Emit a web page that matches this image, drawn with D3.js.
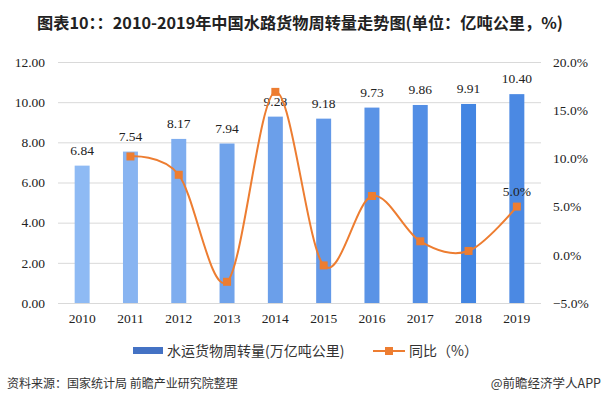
<!DOCTYPE html>
<html><head><meta charset="utf-8">
<script src="https://cdn.jsdelivr.net/npm/d3@7/dist/d3.min.js"></script>
<style>body{margin:0;background:#fff}svg{display:block}</style>
</head><body><svg id="c" width="604" height="404"></svg>
<script>
const years = ["2010","2011","2012","2013","2014","2015","2016","2017","2018","2019"];
const volume = [6.84,7.54,8.17,7.94,9.28,9.18,9.73,9.86,9.91,10.40];
const yoy = [null,10.2,8.3,-2.8,16.9,-1.1,6.1,1.4,0.4,5.0];
const leftTicks = [0,2,4,6,8,10,12];
const rightTicks = [-5,0,5,10,15,20];
const barColors = ["#8ebaf4","#88b4f1","#7eadef","#70a3eb","#6b9fea","#6399e8","#5a93e6","#528ee5","#4285e2","#4b89e3"];

const svg = d3.select("#c");
const L = 58, R = 541, T = 62, B = 303;
const serif = "'Liberation Serif','Times New Roman',serif";
const cjk = "'Noto Sans CJK SC','Microsoft YaHei',sans-serif";

const x = d3.scaleBand().domain(years).range([L, R]).paddingInner(0.69).paddingOuter(0.345);
const y = d3.scaleLinear().domain([0, 12]).range([B, T]);
const y2 = d3.scaleLinear().domain([-5, 20]).range([B, T]);

// title
svg.append("text").attr("x", 300).attr("y", 29).attr("text-anchor", "middle")
  .attr("font-family", cjk).attr("font-weight", "bold").attr("font-size", 16.2).attr("fill", "#222")
  .text("图表10：：2010-2019年中国水路货物周转量走势图(单位：亿吨公里，%)");

// gridlines
svg.append("g").selectAll("line").data(leftTicks).join("line")
  .attr("x1", L).attr("x2", R).attr("y1", d => y(d) + 0.5).attr("y2", d => y(d) + 0.5)
  .attr("stroke", "#d9d9d9").attr("stroke-width", 1);

// left axis
const ga = svg.append("g").attr("transform", `translate(${L - 13},0)`)
  .call(d3.axisLeft(y).tickValues(leftTicks).tickFormat(d3.format(".2f")).tickSize(0).tickPadding(0));
ga.select(".domain").remove();
ga.selectAll("text").attr("font-family", serif).attr("font-size", 13.5).attr("fill", "#222");

// right axis
const gr = svg.append("g").attr("transform", `translate(${R + 12},0)`)
  .call(d3.axisRight(y2).tickValues(rightTicks).tickFormat(d => d3.format(".1f")(d) + "%").tickSize(0).tickPadding(0));
gr.select(".domain").remove();
gr.selectAll("text").attr("font-family", serif).attr("font-size", 13.5).attr("fill", "#222");

// bottom axis
const gb = svg.append("g").attr("transform", `translate(0,${B + 10})`)
  .call(d3.axisBottom(x).tickSize(0).tickPadding(0));
gb.select(".domain").remove();
gb.selectAll("text").attr("font-family", serif).attr("font-size", 13.5).attr("fill", "#222").attr("dy", "0.71em");

// bars
svg.append("g").selectAll("rect").data(years).join("rect")
  .attr("x", d => x(d)).attr("width", x.bandwidth())
  .attr("y", (d, i) => y(volume[i])).attr("height", (d, i) => y(0) - y(volume[i]))
  .attr("fill", (d, i) => barColors[i]);

// bar labels
svg.append("g").selectAll("text").data(years).join("text")
  .attr("x", d => x(d) + x.bandwidth() / 2).attr("y", (d, i) => y(volume[i]) - 11)
  .attr("text-anchor", "middle").attr("font-family", serif).attr("font-size", 13.5).attr("fill", "#222")
  .text((d, i) => volume[i].toFixed(2));

// line
const pts = years.map((d, i) => ({ year: d, v: yoy[i] })).filter(p => p.v !== null);
const cx = d => x(d.year) + x.bandwidth() / 2;
svg.append("path").datum(pts)
  .attr("d", d3.line().x(cx).y(d => y2(d.v)).curve(d3.curveCatmullRom.alpha(0)))
  .attr("fill", "none").attr("stroke", "#ed7d31").attr("stroke-width", 2);
svg.append("g").selectAll("rect").data(pts).join("rect")
  .attr("x", d => cx(d) - 4).attr("y", d => y2(d.v) - 4).attr("width", 8).attr("height", 8)
  .attr("fill", "#ed7d31");
const last = pts[pts.length - 1];
svg.append("text").attr("x", cx(last)).attr("y", y2(last.v) - 11).attr("text-anchor", "middle")
  .attr("font-family", serif).attr("font-size", 13.5).attr("fill", "#222").text(d3.format(".1f")(last.v) + "%");

// legend
const lg = svg.append("g");
lg.append("rect").attr("x", 133).attr("y", 347).attr("width", 30).attr("height", 7).attr("fill", "#4472c4");
lg.append("text").attr("x", 167).attr("y", 356).attr("font-family", cjk).attr("font-size", 14).attr("fill", "#333")
  .text("水运货物周转量(万亿吨公里)");
lg.append("line").attr("x1", 373).attr("x2", 405).attr("y1", 351).attr("y2", 351).attr("stroke", "#ed7d31").attr("stroke-width", 2);
lg.append("rect").attr("x", 385).attr("y", 347).attr("width", 8).attr("height", 8).attr("fill", "#ed7d31");
lg.append("text").attr("x", 409).attr("y", 356).attr("font-family", cjk).attr("font-size", 14).attr("fill", "#333")
  .text("同比（%）");

// footer
svg.append("text").attr("x", 7).attr("y", 388).attr("font-family", cjk).attr("font-size", 12).attr("fill", "#333")
  .text("资料来源：国家统计局 前瞻产业研究院整理");
svg.append("text").attr("x", 601).attr("y", 388).attr("text-anchor", "end").attr("font-family", cjk).attr("font-size", 12.5).attr("fill", "#333")
  .text("@前瞻经济学人APP");
</script></body></html>
